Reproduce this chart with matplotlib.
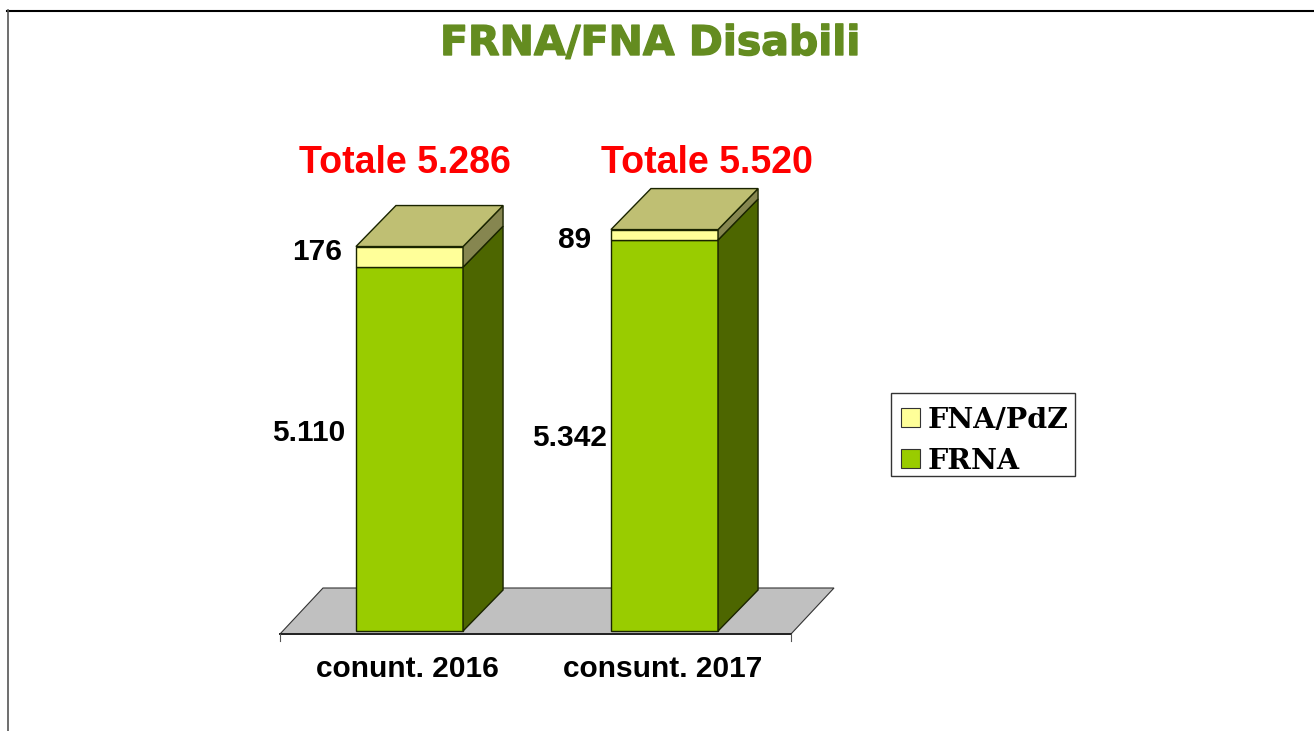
import matplotlib
matplotlib.use("Agg")
import matplotlib.pyplot as plt
import matplotlib.patheffects as pe
from matplotlib.lines import Line2D
from matplotlib.patches import Patch, Polygon, Rectangle

categories = ["conunt. 2016", "consunt. 2017"]
frna = [5110, 5342]
fna_pdz = [176, 89]
frna_labels = ["5.110", "5.342"]
fna_labels = ["176", "89"]
totals = ["Totale 5.286", "Totale 5.520"]

W, H = 1314, 731
GREEN = "#99CC00"
GREEN_SIDE = "#4D6600"
YELLOW = "#FFFF99"
YELLOW_SIDE = "#868650"
YELLOW_TOP = "#BFBF73"
FLOOR = "#C0C0C0"
EDGE = "#1A2400"

SANS = "Liberation Sans"
SERIF = "DejaVu Serif"

fig = plt.figure(figsize=(W / 100, H / 100), dpi=100)

# axes placed so the value axis starts at 2000 on the picture's floor
ax = fig.add_axes([282 / W, 1 - 631 / H, 510 / W, 585 / H])
ax.set_xlim(-0.5, 1.5)
ax.set_ylim(2000, 7000)
ax.axis("off")
ax.set_zorder(2)


def px(x, y):
    return x / W, 1 - y / H


# depth of the 3d bars in pixels
DX, DY = 40, 41
bar_w = 0.42

# floor
fig.add_artist(Polygon([px(280, 634), px(323, 588), px(834, 588), px(791, 634)],
                       closed=True, transform=fig.transFigure, facecolor=FLOOR,
                       edgecolor="#333333", linewidth=0.8, zorder=0.5))
fig.add_artist(Line2D(*zip(px(280, 634), px(791, 634)), transform=fig.transFigure,
                      color="#222222", linewidth=1.4, zorder=0.6))
for xt in [280, 791]:
    fig.add_artist(Line2D(*zip(px(xt, 634), px(xt, 641)), transform=fig.transFigure,
                          color="#555555", linewidth=0.8, zorder=0.6))


def box_face(pts, offset, color):
    ax.add_patch(Polygon(pts, closed=True, facecolor=color, edgecolor=EDGE,
                         linewidth=1.0, transform=offset, clip_on=False))


for i in range(len(categories)):
    left = i - bar_w / 2
    right = i + bar_w / 2
    top_green = frna[i]
    top_all = frna[i] + fna_pdz[i]
    base = ax.get_ylim()[0]

    # front faces
    box_face([(left, base), (right, base), (right, top_green), (left, top_green)],
             ax.transData, GREEN)
    box_face([(left, top_green), (right, top_green), (right, top_all), (left, top_all)],
             ax.transData, YELLOW)

    # side faces, each built from the front edge and its moved copy
    for low, high, col in [(base, top_green, GREEN_SIDE), (top_green, top_all, YELLOW_SIDE)]:
        p0 = ax.transData.transform((right, low))
        p1 = ax.transData.transform((right, high))
        pts = [p0, p1, p1 + (DX, DY), p0 + (DX, DY)]
        ax.add_patch(Polygon(pts, closed=True, facecolor=col, edgecolor=EDGE,
                             linewidth=1.0, transform=None, clip_on=False))

    # top face
    a = ax.transData.transform((left, top_all))
    b = ax.transData.transform((right, top_all))
    ax.add_patch(Polygon([a, b, b + (DX, DY), a + (DX, DY)], closed=True,
                         facecolor=YELLOW_TOP, edgecolor=EDGE, linewidth=1.0,
                         transform=None, clip_on=False))

label_style = dict(family=SANS, fontweight="bold", color="black", transform=fig.transFigure)

title = fig.text(*px(650.5, 44), "FRNA/FNA Disabili", family="DejaVu Sans", fontweight="bold",
                 fontsize=29.5, color="#648C20", ha="center", va="center")
title.set_path_effects([pe.withStroke(linewidth=1.0, foreground="#648C20")])

for txt, xc in zip(totals, [404.5, 706.5]):
    fig.text(*px(xc, 163), txt, family=SANS, fontweight="bold", fontsize=27,
             color="#FF0000", ha="center", va="center")

for txt, xr, yc in zip(fna_labels, [342, 591], [252, 240]):
    fig.text(*px(xr, yc), txt, ha="right", va="center", fontsize=21.5, **label_style)
for txt, xr, yc in zip(frna_labels, [345, 607], [433, 438]):
    fig.text(*px(xr, yc), txt, ha="right", va="center", fontsize=21.5, **label_style)
for txt, xc in zip(categories, [407.5, 662.5]):
    fig.text(*px(xc, 669), txt, ha="center", va="center", fontsize=21.5, **label_style)

# legend box drawn apart: its padding is uneven in the reference
fig.add_artist(Rectangle(px(891, 476), 184 / W, 83 / H, transform=fig.transFigure,
                         facecolor="white", edgecolor="#333333", linewidth=1.0, zorder=3))
handles = [Patch(facecolor=YELLOW, edgecolor="#333333", linewidth=0.8),
           Patch(facecolor=GREEN, edgecolor="#333333", linewidth=0.8)]
leg = fig.legend(handles, ["FNA/PdZ", "FRNA"], loc="upper left",
                 bbox_to_anchor=px(901, 406.5), bbox_transform=fig.transFigure,
                 prop={"family": SERIF, "weight": "bold", "size": 20.5},
                 frameon=False, handlelength=0.67, handleheight=0.67, handletextpad=0.28,
                 labelspacing=0.5, borderpad=0, borderaxespad=0)
leg.set_zorder(4)

# slide frame
fig.add_artist(Line2D(*zip(px(7, 10.5), px(W, 10.5)), transform=fig.transFigure,
                      color="black", linewidth=1.5))
fig.add_artist(Line2D(*zip(px(8, 10), px(8, H)), transform=fig.transFigure,
                      color="#555555", linewidth=1.2))

fig.savefig("out.png", dpi=100)
